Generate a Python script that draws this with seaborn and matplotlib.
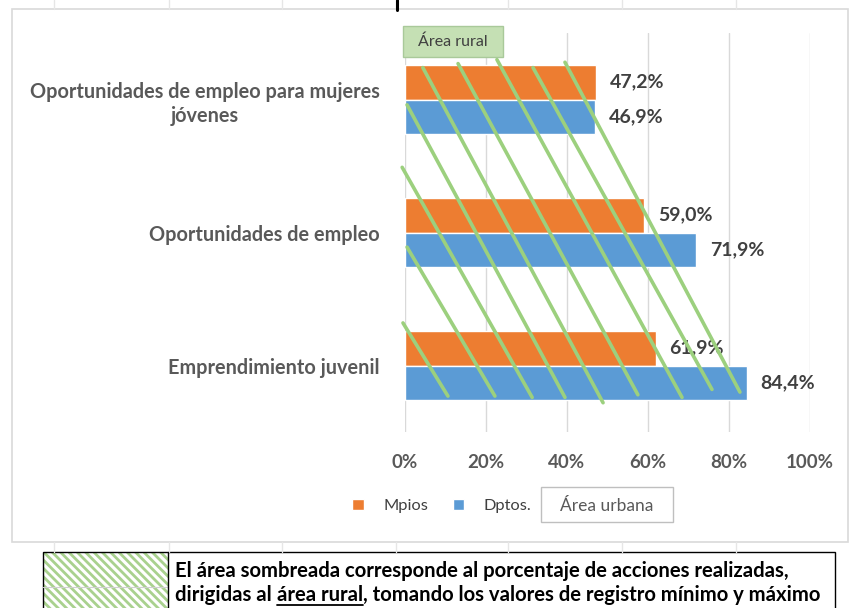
import matplotlib
matplotlib.use("Agg")
import matplotlib.pyplot as plt
import seaborn as sns
import pandas as pd
from matplotlib.patches import Rectangle
from matplotlib.lines import Line2D

# ---------------- data ----------------
categories = ["Oportunidades de empleo para mujeres\njóvenes",
              "Oportunidades de empleo",
              "Emprendimiento juvenil"]
series = ["Mpios", "Dptos."]
mpios = [47.2, 59.0, 61.9]
dptos = [46.9, 71.9, 84.4]
x_ticks = [0, 20, 40, 60, 80, 100]
x_tick_labels = ["0%", "20%", "40%", "60%", "80%", "100%"]

# overlay lines marking the rural area (x in %, y in category units)
rural_x0 = [-0.5, 0.5, -0.7, 0.5, 4.4, 13.1, 22.7, 31.6, 39.5]
rural_y0 = [1.68, 1.11, 0.51, 0.04, -0.24, -0.27, -0.30, -0.24, -0.28]
rural_x1 = [10.6, 22.2, 31.4, 39.5, 48.9, 57.5, 68.4, 75.8, 82.7]
rural_y1 = [2.23, 2.23, 2.24, 2.24, 2.28, 2.22, 2.24, 2.18, 2.20]

rural_label = "Área rural"
urban_label = "Área urbana"
note_line1 = "El área sombreada corresponde al porcentaje de acciones realizadas,"
note_line2 = ["dirigidas al ", "área rural", ", tomando los valores de registro mínimo y máximo"]

ORANGE = "#ED7D31"
BLUE = "#5B9BD5"
GREEN = "#9CD07E"
GRID = "#D9D9D9"
TXT = "#595959"
FONT = "Lato"

df = pd.DataFrame({
    "cat": categories * 2,
    "serie": [series[0]] * 3 + [series[1]] * 3,
    "val": mpios + dptos,
})

sns.set_style("white")
plt.rcParams["font.family"] = [FONT, "DejaVu Sans"]

W, H = 851, 608
fig = plt.figure(figsize=(W / 100, H / 100), dpi=100)

def fx(px):
    return px / W

def fy(py):
    return 1 - py / H

# spreadsheet background lines and chart frame
for xc in [54, 169, 282, 396, 508, 622, 736]:
    fig.add_artist(Line2D([fx(xc), fx(xc)], [fy(0), fy(9)], color="#E6E6E6", lw=1))
    fig.add_artist(Line2D([fx(xc), fx(xc)], [fy(542), fy(552)], color="#E6E6E6", lw=1))
fig.add_artist(Rectangle((fx(12), fy(542)), fx(848) - fx(12), fy(9) - fy(542),
                         fill=False, edgecolor="#D9D9D9", lw=1.2))

# cut-off title fragment (only a descender stroke is visible)
fig.add_artist(Line2D([fx(396.5), fx(396.5)], [fy(0), fy(10)], color="black", lw=2.2))

ax = fig.add_axes([fx(405), fy(432), fx(810) - fx(405), fy(33) - fy(432)])
sns.barplot(data=df, y="cat", x="val", hue="serie", hue_order=series, orient="h",
            palette=[ORANGE, BLUE], saturation=1, width=0.526, ax=ax, legend=True)

ax.set_xlim(0, 100)
ax.set_ylim(2.5, -0.5)
ax.set_xticks(x_ticks)
ax.set_xticklabels(x_tick_labels)
ax.set_xlabel("")
ax.set_ylabel("")
for s in ax.spines.values():
    s.set_visible(False)
ax.xaxis.grid(True, color=GRID, lw=1)
ax.yaxis.grid(False)
ax.set_axisbelow(True)
ax.tick_params(axis="x", length=0, pad=16, labelsize=13.5, labelcolor=TXT)
ax.tick_params(axis="y", length=0, pad=18, labelsize=14.3, labelcolor=TXT)
for t in ax.get_xticklabels():
    t.set_fontweight("bold")
for t in ax.get_yticklabels():
    t.set_fontweight("bold")
    t.set_multialignment("center")
    t.set_linespacing(1.25)

for cont, vals in zip(ax.containers, [mpios, dptos]):
    ax.bar_label(cont, labels=[f"{v:.1f}%".replace(".", ",") for v in vals],
                 padding=10, fontsize=14, fontweight="bold", color="#404040")

for x0, y0, x1, y1 in zip(rural_x0, rural_y0, rural_x1, rural_y1):
    ax.plot([x0, x1], [y0, y1], color=GREEN, lw=2.6, solid_capstyle="round",
            clip_on=False, zorder=5)

# legend
handles, labels = ax.get_legend_handles_labels()
ax.get_legend().remove()
fig.legend(handles, labels, loc="center", bbox_to_anchor=(fx(442), fy(506)), ncol=2,
           frameon=False, handlelength=0.7, handleheight=0.7, handletextpad=1.2,
           columnspacing=1.5, prop={"size": 11.8, "family": FONT}, labelcolor="#404040")

# "Área urbana" box
fig.add_artist(Rectangle((fx(541), fy(522)), fx(673) - fx(541), fy(487) - fy(522),
                         facecolor="white", edgecolor="#BFBFBF", lw=1))
fig.text(fx(607), fy(506), urban_label, ha="center", va="center", fontsize=12.5,
         color="#595959")

# "Área rural" box
fig.add_artist(Rectangle((fx(403), fy(57)), fx(503) - fx(403), fy(26) - fy(57),
                         facecolor="#C5E0B4", edgecolor="#A9C99A", lw=1, zorder=6))
fig.text(fx(453), fy(42), rural_label, ha="center", va="center", fontsize=11.5,
         color="#404040", zorder=7)

# note box at bottom
plt.rcParams["hatch.linewidth"] = 2.0
hatch_rect = Rectangle((fx(43), fy(612)), fx(168) - fx(43), fy(552) - fy(612),
                       facecolor="white", edgecolor="#A9D18E",
                       hatch="\\" * 4, lw=0)
fig.add_artist(hatch_rect)
fig.add_artist(Line2D([fx(43), fx(168)], [fy(587), fy(587)], color="#D0D0D0", lw=0.8))
fig.add_artist(Rectangle((fx(43), fy(612)), fx(835) - fx(43), fy(552) - fy(612),
                         fill=False, edgecolor="black", lw=1))
fig.add_artist(Line2D([fx(168), fx(168)], [fy(552), fy(612)], color="black", lw=1))

note_kw = dict(fontsize=14.6, fontweight="bold", color="black", va="center", ha="left")
fig.text(fx(175), fy(571), note_line1, **note_kw)

fig.canvas.draw()
renderer = fig.canvas.get_renderer()
xpos = 175
for i, piece in enumerate(note_line2):
    t = fig.text(fx(xpos), fy(595), piece, **note_kw)
    bb = t.get_window_extent(renderer)
    if i == 1:
        fig.add_artist(Line2D([bb.x0 / W, bb.x1 / W], [fy(605), fy(605)],
                              color="black", lw=1.3))
    xpos += bb.width

fig.savefig("out.png", dpi=100)
